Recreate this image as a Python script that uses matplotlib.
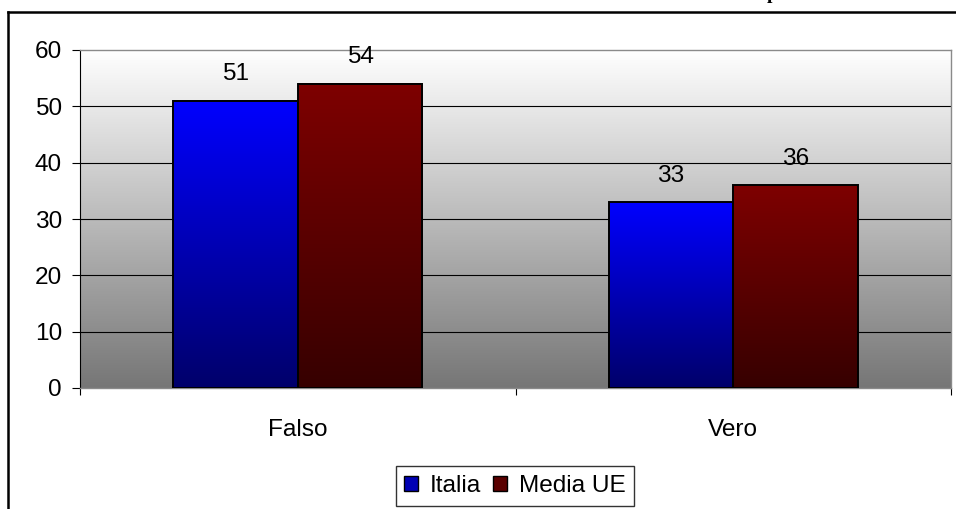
import numpy as np
import matplotlib.pyplot as plt
from matplotlib.colors import LinearSegmentedColormap
from matplotlib.patches import Patch
from matplotlib.lines import Line2D

categories = ["Falso", "Vero"]
series_names = ["Italia", "Media UE"]
italia = [51, 33]
media_ue = [54, 36]
y_ticks = [0, 10, 20, 30, 40, 50, 60]

plt.rcParams["font.family"] = ["Liberation Sans", "DejaVu Sans"]
FS = 17.6

# colori (alto -> basso del gradiente)
bar_colors = [("#0000ff", "#00006a"), ("#7e0000", "#360000")]
legend_colors = ["#0000b4", "#5a0000"]
bg_colors = ("#ffffff", "#767676")

fig = plt.figure(figsize=(9.56, 5.09), dpi=100)
W, H = 956, 509
ax = fig.add_axes([80 / W, (H - 388) / H, 871 / W, 338 / H])

x = np.arange(len(categories))
width = 0.286
ax.set_xlim(-0.5, len(categories) - 0.5)
ax.set_ylim(0, 60)

# sfondo con gradiente
grad = np.linspace(0, 1, 256).reshape(-1, 1)
bg_cmap = LinearSegmentedColormap.from_list("bg", bg_colors)
ax.imshow(grad, cmap=bg_cmap, extent=(-0.5, len(categories) - 0.5, 0, 60),
          aspect="auto", zorder=0, interpolation="bicubic")

# griglia
for yt in y_ticks[1:-1]:
    ax.axhline(yt, color="#000000", lw=0.8, zorder=1)

for i, (vals, name) in enumerate(zip([italia, media_ue], series_names)):
    offs = (i - 0.5) * width
    bars = ax.bar(x + offs, vals, width, facecolor="none", edgecolor="black",
                  linewidth=1.4, zorder=3, label=name)
    cmap = LinearSegmentedColormap.from_list(name, bar_colors[i])
    for rect, v in zip(bars, vals):
        x0 = rect.get_x()
        ax.imshow(grad, cmap=cmap, extent=(x0, x0 + rect.get_width(), 0, rect.get_height()),
                  aspect="auto", zorder=2, interpolation="bicubic")
        ax.annotate(str(v), (x0 + rect.get_width() / 2, v), xytext=(0, 19),
                    textcoords="offset points", ha="center", va="center", fontsize=FS)

ax.set_xlim(-0.5, len(categories) - 0.5)
ax.set_ylim(0, 60)

# assi
ax.set_yticks(y_ticks)
ax.tick_params(axis="y", direction="out", length=6, width=0.8, pad=7, labelsize=FS)
ax.set_xticks(x)
ax.set_xticklabels(categories)
ax.tick_params(axis="x", which="major", length=0, pad=22, labelsize=FS)
ax.set_xticks(np.arange(len(categories) + 1) - 0.5, minor=True)
ax.tick_params(axis="x", which="minor", direction="out", length=5, width=0.8)

ax.spines["left"].set_color("#000000")
ax.spines["left"].set_linewidth(0.8)
for s in ["top", "right", "bottom"]:
    ax.spines[s].set_color("#8a8a8a")
    ax.spines[s].set_linewidth(1.0)

# legenda
handles = [Patch(facecolor=c, edgecolor="black", linewidth=1.0) for c in legend_colors]
leg = fig.legend(handles, series_names, loc="center", bbox_to_anchor=(515 / W, (H - 486) / H),
                 ncol=2, fontsize=FS, frameon=True, fancybox=False, handlelength=0.55,
                 handleheight=0.55, handletextpad=0.5, columnspacing=0.5, borderpad=0.35,
                 borderaxespad=0)
leg.get_frame().set_edgecolor("black")
leg.get_frame().set_linewidth(1.0)

# cornice e testo tagliato in alto
fig.add_artist(Line2D([8 / W, 1], [1 - 12 / H, 1 - 12 / H], color="black", lw=1.8))
fig.add_artist(Line2D([8 / W, 8 / W], [0, 1 - 12 / H], color="black", lw=1.8))
fig.text(772 / W, 1 + 1 / H, "p", fontfamily="Liberation Serif", fontweight="bold",
         fontsize=14, ha="center", va="baseline")

fig.savefig("out.png", dpi=100)
